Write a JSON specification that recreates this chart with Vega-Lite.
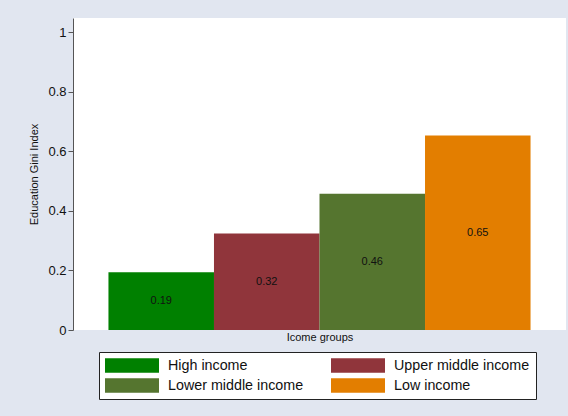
{
  "$schema": "https://vega.github.io/schema/vega-lite/v6.json",
  "width": 493,
  "height": 312,
  "autosize": {"type": "none"},
  "padding": {"left": 73, "top": 18, "right": 2, "bottom": 86},
  "background": "#e1e6f0",
  "config": {"view": {"fill": "white", "stroke": null}, "font": "Liberation Sans"},
  "data": {"values": [
    {"group": "High income", "gini": 0.194},
    {"group": "Upper middle income", "gini": 0.324},
    {"group": "Lower middle income", "gini": 0.457},
    {"group": "Low income", "gini": 0.653}
  ]},
  "encoding": {
    "x": {"field": "group", "type": "nominal", "sort": null,
      "scale": {"paddingInner": 0, "paddingOuter": 0.336},
      "axis": {"title": "Icome groups", "labels": false, "ticks": false, "domain": false,
        "titleFontSize": 11, "titleFontWeight": "normal", "titlePadding": 1, "titleColor": "#111"}},
    "y": {"field": "gini", "type": "quantitative",
      "scale": {"domain": [0, 1.047], "nice": false, "zero": true},
      "axis": {"title": "Education Gini Index", "values": [0, 0.2, 0.4, 0.6, 0.8, 1], "format": "~g",
        "grid": false, "domainColor": "#555", "tickColor": "#555", "tickSize": 5,
        "labelFontSize": 13, "labelColor": "#111", "labelPadding": 2,
        "titleFontSize": 11, "titleFontWeight": "normal", "titlePadding": 8, "titleColor": "#111"}}
  },
  "layer": [
    {
      "mark": {"type": "bar"},
      "encoding": {
        "fill": {"field": "group", "type": "nominal",
          "scale": {"domain": ["High income", "Upper middle income", "Lower middle income", "Low income"],
                    "range": ["#008000", "#90353b", "#55752f", "#e37e00"]},
          "legend": {"orient": "none", "legendX": 26, "legendY": 334, "title": null, "columns": 2,
            "direction": "horizontal",
            "symbolType": "M-1,-0.27H1V0.27H-1Z", "symbolSize": 2916, "symbolStrokeWidth": 0,
            "symbolOpacity": 1, "labelFontSize": 14.3, "labelColor": "#111", "labelOffset": 9,
            "columnPadding": 27, "rowPadding": 5, "padding": 6, "strokeColor": "#222",
            "fillColor": "white", "clipHeight": 15}}
      }
    },
    {
      "mark": {"type": "text", "fontSize": 11, "baseline": "middle", "color": "#111"},
      "encoding": {
        "y": {"field": "gini", "type": "quantitative", "stack": "zero", "bandPosition": 0.5},
        "text": {"field": "gini", "type": "quantitative", "format": ".2f"}
      }
    }
  ]
}
